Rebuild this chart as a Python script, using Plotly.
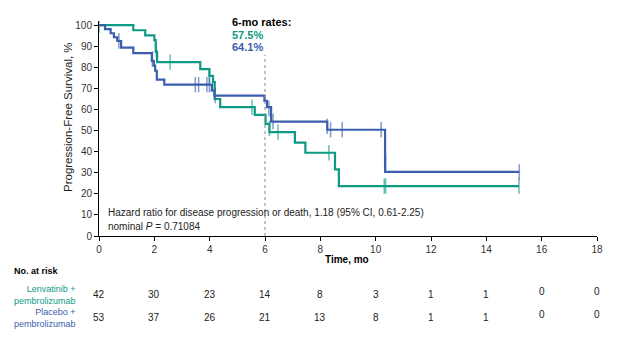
import plotly.graph_objects as go

# ---------------- data ----------------
len_t = [0, 1.24, 1.67, 2.0, 2.05, 2.1, 3.66, 3.99, 4.12, 4.18, 4.38, 5.63, 6.02, 6.16, 7.08, 7.46, 8.53, 8.67, 15.18]
len_s = [100, 97.6, 95.2, 92.9, 87.5, 82.5, 79.2, 76.0, 73.0, 65.0, 61.1, 57.5, 53.2, 49.3, 44.3, 39.5, 31.6, 23.7, 23.7]
len_cens_t = [0, 2.07, 2.57, 3.99, 4.18, 5.53, 6.16, 6.47, 8.31, 10.31, 10.36, 15.18]
len_cens_s = [100, 88.0, 82.5, 76.0, 70.0, 61.1, 51.0, 49.3, 39.5, 23.7, 23.7, 23.7]

pla_t = [0, 0.22, 0.42, 0.54, 0.66, 0.8, 1.24, 1.91, 1.98, 2.03, 2.09, 2.36, 4.08, 4.17, 5.98, 6.07, 6.22, 8.25, 10.34, 15.19]
pla_s = [100, 98.1, 96.2, 94.3, 92.5, 89.4, 86.8, 83.1, 80.8, 78.4, 74.2, 71.8, 69.0, 66.6, 64.1, 61.1, 54.3, 50.4, 30.4, 30.4]
pla_cens_t = [0.72, 1.93, 3.48, 3.6, 3.9, 3.99, 4.2, 6.14, 6.29, 8.25, 8.37, 8.79, 10.2, 10.36, 15.19]
pla_cens_s = [92.5, 84.0, 71.8, 71.8, 71.8, 71.8, 66.6, 60.5, 54.3, 52.0, 50.4, 50.4, 50.4, 35.0, 30.4]

risk_times = [0, 2, 4, 6, 8, 10, 12, 14, 16, 18]
risk_len = [42, 30, 23, 14, 8, 3, 1, 1, 0, 0]
risk_pla = [53, 37, 26, 21, 13, 8, 1, 1, 0, 0]

x_ticks = list(range(0, 19, 2))
y_ticks = list(range(0, 101, 10))

GREEN = "#0e9a84"
BLUE = "#3a5ead"
GREEN_C = "rgba(14,154,132,0.6)"
BLUE_C = "rgba(58,94,173,0.6)"
FONT = "Arial, Liberation Sans, sans-serif"

# plot area in pixels
L, R, T, B = 99, 597, 21, 236
W, H = 619, 337


def xp(px):
    return (px - L) / (R - L)


def yp(py):
    return (B - py) / (B - T)


fig = go.Figure()

fig.add_trace(go.Scatter(x=len_t, y=len_s, mode="lines", line=dict(color=GREEN, width=2.2, shape="hv"),
                         showlegend=False, hoverinfo="skip"))
fig.add_trace(go.Scatter(x=pla_t, y=pla_s, mode="lines", line=dict(color=BLUE, width=2.2, shape="hv"),
                         showlegend=False, hoverinfo="skip"))
fig.add_trace(go.Scatter(x=len_cens_t, y=len_cens_s, mode="markers",
                         marker=dict(symbol="line-ns", size=11, line=dict(color=GREEN_C, width=1.6)),
                         showlegend=False, hoverinfo="skip"))
fig.add_trace(go.Scatter(x=pla_cens_t, y=pla_cens_s, mode="markers",
                         marker=dict(symbol="line-ns", size=11, line=dict(color=BLUE_C, width=1.6)),
                         showlegend=False, hoverinfo="skip"))

# 6-month dotted reference line
fig.add_shape(type="line", x0=6, x1=6, y0=0, y1=86, xref="x", yref="y",
              line=dict(color="#888888", width=1, dash="dot"))


def txt(px, py, s, size, color, anchor="left", **kw):
    return dict(x=xp(px), y=yp(py), xref="paper", yref="paper", xanchor=anchor, yanchor="middle",
                text=s, showarrow=False, font=dict(size=size, color=color, family=FONT), **kw)


ann = [
    txt(230, 22, "<b>6-mo rates:</b>", 11, "black"),
    txt(230, 35, "<b>57.5%</b>", 11, GREEN),
    txt(230, 47, "<b>64.1%</b>", 11, BLUE),
    txt(106, 212, "Hazard ratio for disease progression or death, 1.18 (95% CI, 0.61-2.25)", 10, "#222"),
    txt(106, 226, "nominal <i>P</i> = 0.71084", 10, "#222"),
    txt(347, 259, "<b>Time, mo</b>", 10, "black", anchor="center"),
    txt(12, 271, "<b>No. at risk</b>", 9, "black"),
    txt(78, 295, "Lenvatinib +<br>pembrolizumab", 9, GREEN, anchor="right", align="right"),
    txt(78, 318, "Placebo +<br>pembrolizumab", 9, BLUE, anchor="right", align="right"),
    txt(68, 117, "Progression-Free Survival, %", 11.5, "#222", anchor="center", textangle=-90),
]

for t, a, b in zip(risk_times, risk_len, risk_pla):
    off = 3 if a == 0 else 0
    ann.append(dict(x=t, y=yp(294 - off), xref="x", yref="paper", xanchor="center", yanchor="middle",
                    text=str(a), showarrow=False, font=dict(size=10, color="#222", family=FONT)))
    off = 3 if b == 0 else 0
    ann.append(dict(x=t, y=yp(317 - off), xref="x", yref="paper", xanchor="center", yanchor="middle",
                    text=str(b), showarrow=False, font=dict(size=10, color="#222", family=FONT)))

fig.update_layout(
    width=W, height=H,
    margin=dict(l=L, r=W - R, t=T, b=H - B),
    plot_bgcolor="white", paper_bgcolor="white",
    font=dict(family=FONT, size=10, color="#222"),
    annotations=ann,
    xaxis=dict(range=[0, 18], tickvals=x_ticks, ticktext=[str(v) for v in x_ticks],
               showgrid=False, zeroline=False, showline=True, linecolor="black", linewidth=1,
               ticks="outside", ticklen=4, tickcolor="black", tickfont=dict(size=10, color="#333")),
    yaxis=dict(range=[0, 102], tickvals=y_ticks, ticktext=[str(v) for v in y_ticks],
               showgrid=False, zeroline=False, showline=True, linecolor="black", linewidth=1,
               ticks="outside", ticklen=4, tickcolor="black", tickfont=dict(size=10, color="#333")),
)

fig.write_html("out.html")
